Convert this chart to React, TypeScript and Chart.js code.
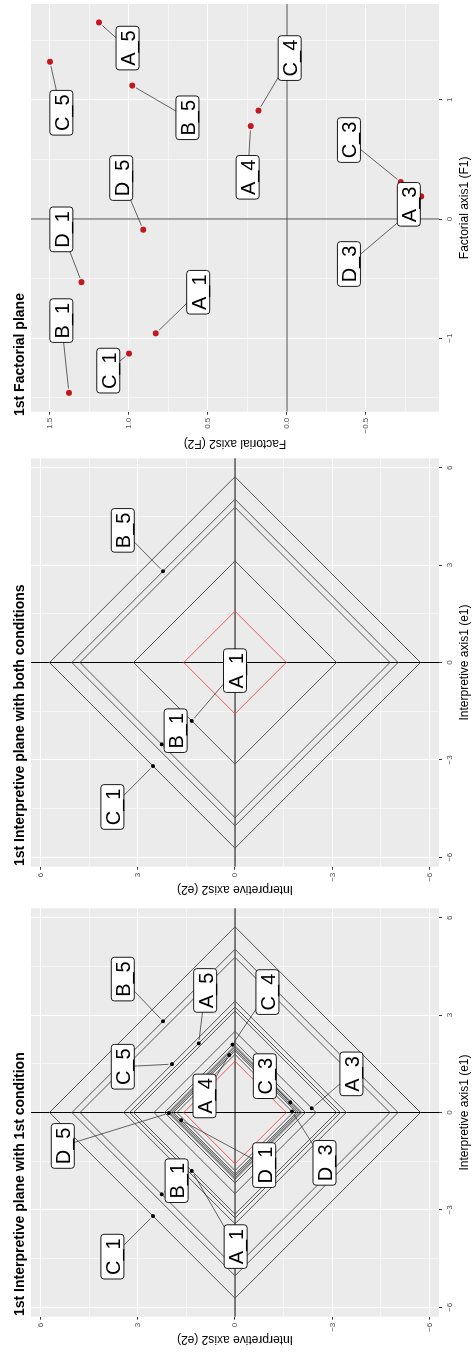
import React, { useEffect, useRef } from "react";
import { Chart, registerables } from "chart.js";

Chart.register(...registerables);

const FONT = '"Liberation Sans", Arial, Helvetica, sans-serif';

// ---------- Panel 1: 1st Interpretive plane with 1st condition ----------
const cond1Names = ["C_1", "B_5", "B_1", "C_5", "A_5", "A_1", "A_3", "C_4", "D_5", "C_3", "A_4", "D_1", "D_3"];
const cond1E1 = [-3.19, 2.81, -2.52, 1.49, 2.13, -1.8, 0.13, 2.09, -0.02, 0.31, 1.77, -0.24, 0.03];
const cond1E2 = [2.53, 2.22, 2.26, 1.94, 1.12, 1.33, -2.37, 0.08, 2.04, -1.7, 0.18, 1.66, -1.76];
const cond1Radii = [5.72, 5.03, 4.78, 3.43, 3.25, 3.13, 2.5, 2.17, 2.06, 2.01, 1.95, 1.9, 1.79];
const cond1LabelE1 = [-4.44, 4.11, -2.1, 1.41, 3.76, -4.13, 1.19, 3.71, -1.03, 1.12, 0.51, -1.62, -1.55];
const cond1LabelE2 = [3.78, 3.46, 1.8, 3.46, 0.92, -0.02, -3.59, -1.0, 5.31, -0.92, 0.94, -0.9, -2.76];

// ---------- Panel 2: 1st Interpretive plane with both conditions ----------
const bothNames = ["C_1", "B_5", "B_1", "A_1"];
const bothE1 = [-3.19, 2.81, -2.52, -1.8];
const bothE2 = [2.53, 2.22, 2.26, 1.33];
const bothRadii = [5.72, 5.03, 4.78, 3.13];
const bothLabelE1 = [-4.45, 4.07, -2.1, -0.25];
const bothLabelE2 = [3.78, 3.46, 1.83, 0.0];

// reference (red) diamond radius
const referenceRadius = [1.58];

// ---------- Panel 3: 1st Factorial plane ----------
const factNames = ["B_1", "C_1", "A_1", "D_1", "D_5", "C_5", "A_5", "B_5", "A_4", "C_4", "C_3", "A_3", "D_3"];
const factF1 = [-1.46, -1.13, -0.96, -0.53, -0.09, 1.32, 1.65, 1.12, 0.78, 0.91, 0.31, 0.19, 0.07];
const factF2 = [1.38, 1.0, 0.83, 1.3, 0.91, 1.5, 1.19, 0.98, 0.23, 0.18, -0.72, -0.85, -0.79];
const factLabelF1 = [-0.853, -1.273, -0.615, -0.087, 0.344, 0.892, 1.435, 0.85, 0.35, 1.351, 0.663, 0.123, -0.378];
const factLabelF2 = [1.428, 1.131, 0.562, 1.428, 1.049, 1.428, 1.009, 0.63, 0.249, -0.017, -0.392, -0.771, -0.392];

// ---------- ticks ----------
const interpMajorTicks = [-6, -3, 0, 3, 6];
const interpMinorTicks = [-4.5, -1.5, 1.5, 4.5];
const f1MajorTicks = [-1, 0, 1];
const f1MinorTicks = [-1.5, -0.5, 0.5, 1.5];
const f2MajorTicks = [-0.5, 0, 0.5, 1, 1.5];
const f2MinorTicks = [-0.75, -0.25, 0.25, 0.75, 1.25];

const MINUS = "\u2212";
const fmtInt = (v: number) => (v < 0 ? MINUS + Math.abs(v) : String(v));
const fmt1 = (v: number) => (v < 0 ? MINUS + Math.abs(v).toFixed(1) : v.toFixed(1));

const CANVAS_H = 474;

type Spec = {
  canvasW: number;
  area: { left: number; right: number; top: number; bottom: number };
  title: string;
  xTitle: string;
  yTitle: string;
  yTitleX: number;
  xRange: [number, number];
  yRange: [number, number];
  xMajor: number[];
  xMinor: number[];
  yMajor: number[];
  yMinor: number[];
  xFmt: (v: number) => string;
  yFmt: (v: number) => string;
  radii: number[];
  refRadii: number[];
  px: number[];
  py: number[];
  names: string[];
  lx: number[];
  ly: number[];
  pointColor: string;
  pointRadius: number;
  zeroColor: string;
};

function diamond(r: number) {
  return [
    { x: r, y: 0 },
    { x: 0, y: r },
    { x: -r, y: 0 },
    { x: 0, y: -r },
    { x: r, y: 0 },
  ];
}

function roundRectPath(ctx: CanvasRenderingContext2D, x: number, y: number, w: number, h: number, r: number) {
  ctx.beginPath();
  ctx.moveTo(x + r, y);
  ctx.lineTo(x + w - r, y);
  ctx.arcTo(x + w, y, x + w, y + r, r);
  ctx.lineTo(x + w, y + h - r);
  ctx.arcTo(x + w, y + h, x + w - r, y + h, r);
  ctx.lineTo(x + r, y + h);
  ctx.arcTo(x, y + h, x, y + h - r, r);
  ctx.lineTo(x, y + r);
  ctx.arcTo(x, y, x + r, y, r);
  ctx.closePath();
}

function makePlugin(spec: Spec) {
  return {
    id: "panelDecor",
    beforeDraw(chart: any) {
      const { ctx, chartArea: a } = chart;
      ctx.save();
      ctx.fillStyle = "#FFFFFF";
      ctx.fillRect(0, 0, chart.width, chart.height);
      ctx.fillStyle = "#EBEBEB";
      ctx.fillRect(a.left, a.top, a.right - a.left, a.bottom - a.top);
      ctx.restore();
    },
    beforeDatasetsDraw(chart: any) {
      const { ctx, chartArea: a, scales } = chart;
      const x0 = scales.x.getPixelForValue(0);
      const y0 = scales.y.getPixelForValue(0);
      ctx.save();
      ctx.strokeStyle = spec.zeroColor;
      ctx.lineWidth = 1;
      ctx.beginPath();
      ctx.moveTo(a.left, y0);
      ctx.lineTo(a.right, y0);
      ctx.moveTo(x0, a.top);
      ctx.lineTo(x0, a.bottom);
      ctx.stroke();
      ctx.restore();
    },
    afterDatasetsDraw(chart: any) {
      const { ctx, chartArea: a, scales } = chart;
      ctx.save();
      ctx.beginPath();
      ctx.rect(a.left, a.top, a.right - a.left, a.bottom - a.top);
      ctx.clip();
      // segments
      ctx.strokeStyle = "#333333";
      ctx.lineWidth = 0.75;
      for (let i = 0; i < spec.names.length; i++) {
        const cx = scales.x.getPixelForValue(spec.lx[i]);
        const cy = scales.y.getPixelForValue(spec.ly[i]);
        const px = scales.x.getPixelForValue(spec.px[i]);
        const py = scales.y.getPixelForValue(spec.py[i]);
        const dx = px - cx;
        const dy = py - cy;
        const d = Math.hypot(dx, dy);
        if (d < 1) continue;
        const pad = spec.pointRadius + 1.5;
        const ex = px - (dx / d) * pad;
        const ey = py - (dy / d) * pad;
        ctx.beginPath();
        ctx.moveTo(cx, cy);
        ctx.lineTo(ex, ey);
        ctx.stroke();
      }
      // label boxes
      ctx.font = `20px ${FONT}`;
      ctx.textAlign = "center";
      ctx.textBaseline = "alphabetic";
      for (let i = 0; i < spec.names.length; i++) {
        const cx = scales.x.getPixelForValue(spec.lx[i]);
        const cy = scales.y.getPixelForValue(spec.ly[i]);
        const tw = ctx.measureText(spec.names[i]).width;
        const w = tw + 8;
        const h = 23;
        roundRectPath(ctx, cx - w / 2, cy - h / 2, w, h, 3);
        ctx.fillStyle = "#FFFFFF";
        ctx.fill();
        ctx.strokeStyle = "#000000";
        ctx.lineWidth = 0.9;
        ctx.stroke();
        ctx.fillStyle = "#000000";
        ctx.fillText(spec.names[i], cx, cy + 7.5);
      }
      ctx.restore();
    },
    afterDraw(chart: any) {
      const { ctx, chartArea: a } = chart;
      ctx.save();
      ctx.fillStyle = "#000000";
      ctx.font = `bold 14px ${FONT}`;
      ctx.textAlign = "left";
      ctx.textBaseline = "alphabetic";
      ctx.fillText(spec.title, 36, 23.5);
      ctx.font = `12px ${FONT}`;
      ctx.textAlign = "center";
      ctx.fillText(spec.xTitle, (a.left + a.right) / 2, 468);
      ctx.translate(spec.yTitleX, (a.top + a.bottom) / 2);
      ctx.rotate(-Math.PI / 2);
      ctx.fillText(spec.yTitle, 0, 0);
      ctx.restore();
    },
  };
}

function axisOptions(
  range: [number, number],
  major: number[],
  minor: number[],
  fmt: (v: number) => string,
  isX: boolean,
  fitSize: number
) {
  const all = [...major, ...minor].sort((p, q) => p - q);
  const isMajor = (v: number) => major.some((m) => Math.abs(m - v) < 1e-9);
  return {
    type: "linear",
    position: isX ? "bottom" : "left",
    min: range[0],
    max: range[1],
    afterBuildTicks: (s: any) => {
      s.ticks = all.map((v) => ({ value: v }));
    },
    afterFit: (s: any) => {
      if (isX) s.height = fitSize;
      else s.width = fitSize;
    },
    border: { display: false },
    grid: {
      color: "#FFFFFF",
      lineWidth: (c: any) => (c.tick && isMajor(c.tick.value) ? 1.1 : 0.55),
      tickColor: (c: any) => (c.tick && isMajor(c.tick.value) ? "#333333" : "rgba(0,0,0,0)"),
      tickWidth: 1,
      tickLength: 3,
      drawTicks: true,
      drawOnChartArea: true,
    },
    ticks: {
      autoSkip: false,
      maxRotation: 0,
      minRotation: 0,
      color: "#4D4D4D",
      font: { family: FONT, size: 8 },
      padding: 3,
      callback: (v: any) => (isMajor(Number(v)) ? fmt(Number(v)) : ""),
    },
  };
}

function makePanel(canvas: HTMLCanvasElement, spec: Spec) {
  const datasets: any[] = [
    {
      data: spec.px.map((x, i) => ({ x, y: spec.py[i] })),
      pointRadius: spec.pointRadius,
      pointBackgroundColor: spec.pointColor,
      pointBorderColor: spec.pointColor,
      pointBorderWidth: 0,
      showLine: false,
      order: 0,
    },
    ...spec.refRadii.map((r) => ({
      data: diamond(r),
      showLine: true,
      borderColor: "#F2403A",
      borderWidth: 0.85,
      pointRadius: 0,
      tension: 0,
      fill: false,
      order: 1,
    })),
    ...spec.radii.map((r) => ({
      data: diamond(r),
      showLine: true,
      borderColor: "#4F4F4F",
      borderWidth: 0.95,
      pointRadius: 0,
      tension: 0,
      fill: false,
      order: 2,
    })),
  ];
  return new Chart(canvas, {
    type: "scatter",
    data: { datasets },
    options: {
      animation: false,
      responsive: false,
      events: [],
      layout: {
        padding: { left: 0, top: spec.area.top, right: spec.canvasW - spec.area.right, bottom: 0 },
      },
      plugins: {
        legend: { display: false },
        tooltip: { enabled: false },
        title: { display: false },
      },
      scales: {
        x: axisOptions(spec.xRange, spec.xMajor, spec.xMinor, spec.xFmt, true, CANVAS_H - spec.area.bottom) as any,
        y: axisOptions(spec.yRange, spec.yMajor, spec.yMinor, spec.yFmt, false, spec.area.left) as any,
      },
    } as any,
    plugins: [makePlugin(spec) as any],
  });
}

const panel1: Spec = {
  canvasW: 450,
  area: { left: 35.3, right: 443.7, top: 31, bottom: 439 },
  title: "1st Interpretive plane with 1st condition",
  xTitle: "Interpretive axis1 (e1)",
  yTitle: "Interpretive axis2 (e2)",
  yTitleX: 15.5,
  xRange: [-6.29, 6.29],
  yRange: [-6.29, 6.29],
  xMajor: interpMajorTicks,
  xMinor: interpMinorTicks,
  yMajor: interpMajorTicks,
  yMinor: interpMinorTicks,
  xFmt: fmtInt,
  yFmt: fmtInt,
  radii: cond1Radii,
  refRadii: referenceRadius,
  px: cond1E1,
  py: cond1E2,
  names: cond1Names,
  lx: cond1LabelE1,
  ly: cond1LabelE2,
  pointColor: "#000000",
  pointRadius: 2,
  zeroColor: "#000000",
};

const panel2: Spec = {
  ...panel1,
  title: "1st Interpretive plane with both conditions",
  radii: bothRadii,
  px: bothE1,
  py: bothE2,
  names: bothNames,
  lx: bothLabelE1,
  ly: bothLabelE2,
};

const panel3: Spec = {
  canvasW: 452,
  area: { left: 40.3, right: 449.3, top: 31, bottom: 439 },
  title: "1st Factorial plane",
  xTitle: "Factorial axis1 (F1)",
  yTitle: "Factorial axis2 (F2)",
  yTitleX: 12.3,
  xRange: [-1.618, 1.805],
  yRange: [-0.962, 1.62],
  xMajor: f1MajorTicks,
  xMinor: f1MinorTicks,
  yMajor: f2MajorTicks,
  yMinor: f2MinorTicks,
  xFmt: fmtInt,
  yFmt: fmt1,
  radii: [],
  refRadii: [],
  px: factF1,
  py: factF2,
  names: factNames,
  lx: factLabelF1,
  ly: factLabelF2,
  pointColor: "#C4161C",
  pointRadius: 3,
  zeroColor: "#4A4A4A",
};

export default function App() {
  const r1 = useRef<HTMLCanvasElement>(null);
  const r2 = useRef<HTMLCanvasElement>(null);
  const r3 = useRef<HTMLCanvasElement>(null);
  useEffect(() => {
    const charts = [
      makePanel(r1.current!, panel1),
      makePanel(r2.current!, panel2),
      makePanel(r3.current!, panel3),
    ];
    return () => charts.forEach((c) => c.destroy());
  }, []);
  return (
    <div
      style={{
        position: "absolute",
        left: 0,
        top: 0,
        width: 1352,
        height: CANVAS_H,
        background: "#FFFFFF",
        transformOrigin: "0 0",
        transform: "translateY(1352px) rotate(-90deg)",
      }}
    >
      <canvas ref={r1} width={450} height={CANVAS_H} style={{ position: "absolute", left: 0, top: 0 }} />
      <canvas ref={r2} width={450} height={CANVAS_H} style={{ position: "absolute", left: 450, top: 0 }} />
      <canvas ref={r3} width={452} height={CANVAS_H} style={{ position: "absolute", left: 900, top: 0 }} />
    </div>
  );
}
